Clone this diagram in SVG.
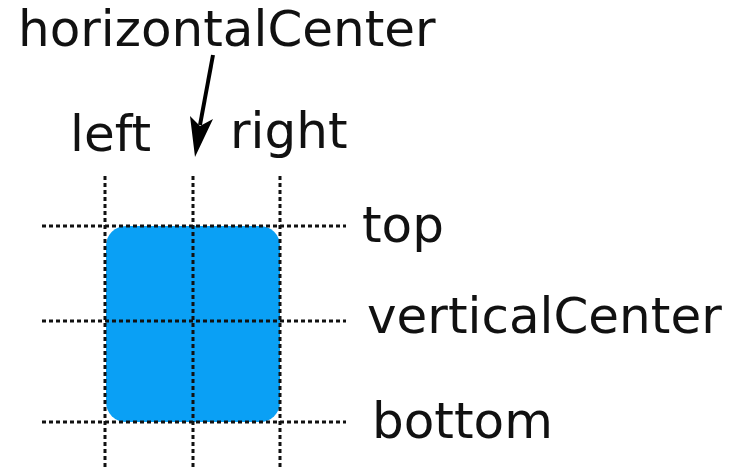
<svg xmlns="http://www.w3.org/2000/svg" width="739" height="467" viewBox="0 0 739 467">
<style>
.lbl{font-family:"DejaVu Sans",Verdana,sans-serif;font-size:50px;fill:#111}
.dot{stroke:#111;stroke-width:3;stroke-dasharray:4 3;fill:none}
</style>
<rect width="739" height="467" fill="#fff"/>
<g id="box">
<rect x="106" y="226" width="174" height="196" rx="20" ry="20" fill="#0aa0f5"/>
</g>
<g id="connectors">
<line class="dot" x1="105" y1="176" x2="105" y2="467"/>
<line class="dot" x1="193" y1="176" x2="193" y2="467"/>
<line class="dot" x1="280" y1="176" x2="280" y2="467"/>
<line class="dot" x1="42" y1="226" x2="346" y2="226"/>
<line class="dot" x1="42" y1="321" x2="346" y2="321"/>
<line class="dot" x1="42" y1="422" x2="346" y2="422"/>
<line x1="213" y1="55" x2="200" y2="125" stroke="#000" stroke-width="4"/>
<polygon points="195,157 190,116 200,126 213,119" fill="#000"/>
</g>
<g id="labels">
<text class="lbl" x="18" y="46">horizontalCenter</text>
<text class="lbl" x="70" y="151">left</text>
<text class="lbl" x="230" y="148">right</text>
<text class="lbl" x="362" y="242">top</text>
<text class="lbl" x="367" y="333">verticalCenter</text>
<text class="lbl" x="372" y="438">bottom</text>
</g>
</svg>
